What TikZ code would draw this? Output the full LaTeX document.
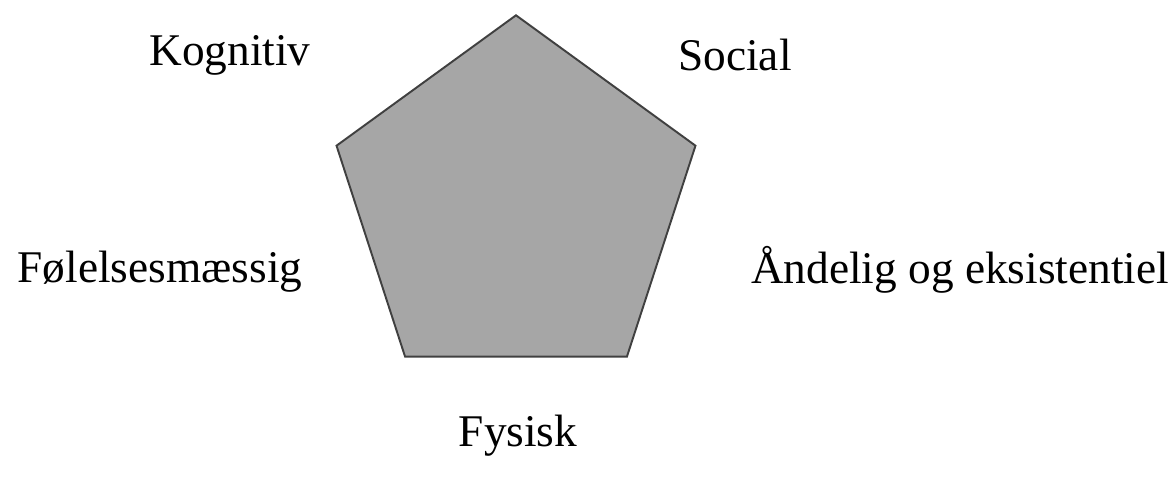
\documentclass[tikz,border=0pt]{standalone}
\usepackage{fontspec}
\setmainfont{Liberation Serif}
\usetikzlibrary{shapes.geometric}

\begin{document}
\begin{tikzpicture}[
    x=0.02cm, y=-0.02cm,
    corenode/.style={regular polygon, regular polygon sides=5, draw=black!75,
                     fill=black!35, line width=1.1pt, inner sep=0pt,
                     minimum size=7.55cm},
    dimlabel/.style={font=\fontsize{25.8}{30}\selectfont, inner sep=0pt}
]
\useasboundingbox (0,0) rectangle (1176,488);

%% ---- Femkant ----
\node[corenode] (core) at (516,204) {};

%% ---- Dimensioner ----
\node[dimlabel] (kog) at (230,55)  {Kognitiv};
\node[dimlabel] (soc) at (735,55)  {Social};
\node[dimlabel] (fol) at (160,272) {Følelsesmæssig};
\node[dimlabel] (and) at (960,270) {Åndelig og eksistentiel};
\node[dimlabel] (fys) at (518,436) {Fysisk};

\end{tikzpicture}
\end{document}
